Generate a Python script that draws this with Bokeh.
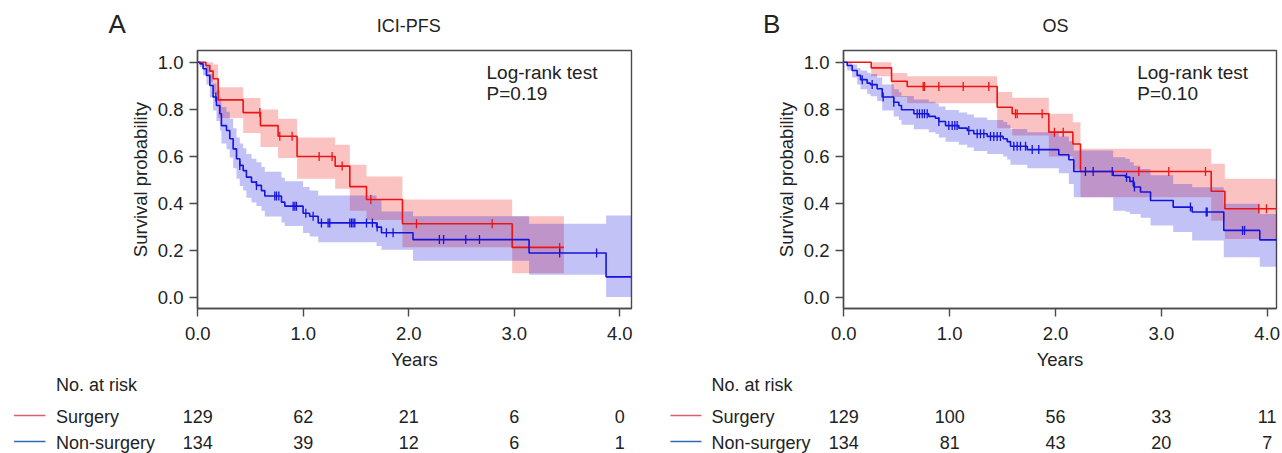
import numpy as np
from bokeh.plotting import figure
from bokeh.layouts import row
from bokeh.models import Range1d, FixedTicker, PrintfTickFormatter
from bokeh.core.properties import value
from bokeh.embed import file_html
from bokeh.resources import INLINE

FONT = "Liberation Sans"
TXT = "#222222"
AX = "#4a4a4a"
RED = "#ee1414"
BLUE = "#1414dc"
RED_LEG = "#d8606e"
BLUE_LEG = "#2e6db4"

# ---------------- data ----------------
YEAR_TICKS = [0, 1, 2, 3, 4]
PROB_TICKS = [0.0, 0.2, 0.4, 0.6, 0.8, 1.0]
GROUPS = ["Surgery", "Non-surgery"]

# Panel A : ICI-PFS
pfs_s_time = [0.0, 0.076, 0.114, 0.145, 0.193, 0.430, 0.594, 0.761, 0.941, 1.302, 1.441, 1.599, 1.940, 2.980, 3.470]
pfs_s_surv = [1.0, 0.986, 0.962, 0.930, 0.840, 0.786, 0.731, 0.686, 0.600, 0.559, 0.472, 0.417, 0.314, 0.214, 0.214]
pfs_s_hi = [1.0, 1.0, 1.0, 0.99, 0.894, 0.848, 0.799, 0.760, 0.680, 0.650, 0.565, 0.515, 0.417, 0.346, 0.346]
pfs_s_lo = [1.0, 0.955, 0.915, 0.865, 0.763, 0.699, 0.640, 0.593, 0.505, 0.463, 0.370, 0.330, 0.215, 0.104, 0.104]
pfs_s_cens = [0.588, 0.777, 0.894, 1.150, 1.273, 1.368, 1.640, 2.073, 2.790, 3.430]

pfs_n_time = [0.0, 0.020, 0.050, 0.082, 0.114, 0.145, 0.177, 0.209, 0.224, 0.272, 0.303, 0.335, 0.367, 0.398, 0.430, 0.461,
              0.509, 0.556, 0.603, 0.635, 0.793, 0.825, 0.998, 1.060, 1.141, 1.694, 1.741, 2.040, 3.140, 3.870, 4.110]
pfs_n_surv = [1.0, 0.993, 0.972, 0.944, 0.901, 0.852, 0.816, 0.781, 0.731, 0.710, 0.675, 0.632, 0.590, 0.562, 0.540, 0.512,
              0.491, 0.477, 0.455, 0.432, 0.406, 0.389, 0.359, 0.346, 0.318, 0.300, 0.276, 0.247, 0.190, 0.089, 0.089]
pfs_n_lo = [1.0, 0.980, 0.945, 0.905, 0.850, 0.795, 0.750, 0.710, 0.655, 0.630, 0.595, 0.550, 0.505, 0.475, 0.455, 0.425,
            0.405, 0.390, 0.370, 0.345, 0.320, 0.305, 0.275, 0.260, 0.236, 0.220, 0.204, 0.157, 0.098, 0.003, 0.003]
pfs_n_hi = [1.0, 1.0, 1.0, 0.985, 0.950, 0.910, 0.880, 0.850, 0.810, 0.790, 0.760, 0.720, 0.680, 0.655, 0.635, 0.610,
            0.590, 0.575, 0.555, 0.535, 0.510, 0.495, 0.470, 0.455, 0.434, 0.415, 0.366, 0.346, 0.314, 0.349, 0.349]
pfs_n_cens = [0.171, 0.398, 0.556, 0.730, 0.746, 0.768, 0.904, 0.920, 0.935, 1.024, 1.093, 1.172, 1.235, 1.251, 1.441,
              1.457, 1.472, 1.488, 1.599, 1.655, 1.700, 1.788, 1.851, 2.290, 2.330, 2.540, 2.670, 3.430, 3.780]

pfs_risk_surg = [129, 62, 21, 6, 0]
pfs_risk_non = [134, 39, 12, 6, 1]

# Panel B : OS
os_s_time = [0.0, 0.259, 0.451, 0.599, 1.449, 1.591, 1.937, 2.164, 2.236, 3.471, 3.600, 4.100]
os_s_surv = [1.0, 0.976, 0.919, 0.897, 0.809, 0.781, 0.703, 0.653, 0.536, 0.452, 0.378, 0.378]
os_s_hi = [1.0, 1.0, 0.954, 0.940, 0.873, 0.849, 0.781, 0.745, 0.633, 0.569, 0.505, 0.505]
os_s_lo = [1.0, 0.940, 0.852, 0.826, 0.720, 0.689, 0.600, 0.545, 0.427, 0.327, 0.250, 0.250]
os_s_cens = [0.750, 0.762, 0.898, 1.128, 1.370, 1.622, 1.638, 1.874, 1.990, 2.073, 2.787, 3.070, 3.417, 3.920, 3.993]

os_n_time = [0.0, 0.032, 0.079, 0.126, 0.158, 0.221, 0.252, 0.315, 0.363, 0.472, 0.520, 0.545, 0.662, 0.803, 0.866, 0.898,
             0.961, 1.087, 1.166, 1.228, 1.355, 1.506, 1.544, 1.575, 1.733, 2.031, 2.126, 2.173, 2.545, 2.661, 2.702, 2.740,
             2.803, 2.898, 3.112, 3.291, 3.590, 3.930, 4.100]
os_n_surv = [1.0, 0.986, 0.965, 0.944, 0.926, 0.911, 0.905, 0.887, 0.852, 0.830, 0.816, 0.798, 0.781, 0.770, 0.762, 0.748,
             0.731, 0.720, 0.710, 0.696, 0.685, 0.675, 0.663, 0.643, 0.629, 0.607, 0.586, 0.536, 0.519, 0.512, 0.494, 0.470,
             0.449, 0.413, 0.385, 0.364, 0.286, 0.246, 0.246]
os_n_lo = [1.0, 0.965, 0.935, 0.905, 0.885, 0.865, 0.855, 0.835, 0.795, 0.770, 0.755, 0.735, 0.715, 0.703, 0.695, 0.680,
           0.662, 0.650, 0.638, 0.623, 0.610, 0.600, 0.587, 0.565, 0.550, 0.529, 0.483, 0.427, 0.370, 0.365, 0.356, 0.356,
           0.340, 0.307, 0.279, 0.243, 0.172, 0.132, 0.132]
os_n_hi = [1.0, 1.0, 0.990, 0.975, 0.965, 0.955, 0.950, 0.935, 0.905, 0.885, 0.872, 0.857, 0.842, 0.832, 0.825, 0.812,
           0.797, 0.787, 0.778, 0.765, 0.755, 0.746, 0.735, 0.716, 0.703, 0.685, 0.665, 0.625, 0.597, 0.590, 0.575, 0.560,
           0.547, 0.520, 0.483, 0.469, 0.399, 0.356, 0.356]
os_n_cens = [0.174, 0.268, 0.372, 0.472, 0.693, 0.715, 0.741, 0.762, 0.788, 0.898, 0.992, 1.024, 1.049, 1.071, 1.181,
             1.260, 1.291, 1.323, 1.386, 1.417, 1.449, 1.480, 1.606, 1.638, 1.669, 1.717, 1.780, 1.842, 2.283, 2.356,
             2.536, 2.671, 2.734, 2.746, 3.275, 3.424, 3.433, 3.767, 3.786]

os_risk_surg = [129, 100, 56, 33, 11]
os_risk_non = [134, 81, 43, 20, 7]

# ---------------- layout constants (page pixels) ----------------
W = 641
H_HEAD, H_PLOT, H_TAB = 40, 335, 78          # stacked: 0-40, 40-375, 375-453
FRAME_TOP, FRAME_BOTTOM = 50, 308
Y0_PX, Y_SCALE = 297.3, 235.6               # pixel row of survival 0 and pixels per unit
MID = 0.35                                  # baseline -> text middle, in em


def step_value(times, surv, t):
    idx = np.searchsorted(np.asarray(times), np.asarray(t), side="right") - 1
    return list(np.asarray(surv)[idx])


def bare(height, xr, yr):
    f = figure(width=W, height=height, x_range=xr, y_range=yr, toolbar_location=None,
               output_backend="svg", min_border=0, x_axis_location=None, y_axis_location=None,
               title=None)
    f.outline_line_color = None
    f.grid.visible = False
    f.background_fill_color = "white"
    f.border_fill_color = "white"
    return f


def txt(f, x, base, s, size=18, align="left"):
    # base: pixel row of the text baseline inside the figure
    f.text(x=x, y=[b - MID * size for b in base], text=s, text_font=value(FONT),
           text_font_size=f"{size}px", text_color=TXT, text_baseline="middle", text_align=align)


def panel(letter, title, pval, surg, non, risk_s, risk_n, fig_left, x0, scale,
          frame_left, frame_right, letter_px, leg_px, lab_px, lr_x):
    fig_right = fig_left + W

    def t_of(px):
        return (px - x0) / scale

    def s_of(py):
        return (Y0_PX - py) / Y_SCALE

    # ---- header (page rows 0-40): y in page pixels
    h = bare(H_HEAD, Range1d(t_of(fig_left), t_of(fig_right)), Range1d(H_HEAD, 0))
    txt(h, [t_of(letter_px)], [33], [letter], size=26)
    txt(h, [2.0], [31.7], [title], align="center")

    # ---- survival plot (page rows 40-375)
    p = figure(width=W, height=H_PLOT,
               x_range=Range1d(t_of(frame_left), t_of(frame_right)),
               y_range=Range1d(s_of(FRAME_BOTTOM), s_of(FRAME_TOP)),
               toolbar_location=None, output_backend="svg",
               min_border_left=frame_left - fig_left, min_border_right=fig_right - frame_right,
               min_border_top=FRAME_TOP - H_HEAD,
               min_border_bottom=H_HEAD + H_PLOT - FRAME_BOTTOM, title=None)
    p.grid.visible = False
    p.outline_line_color = AX
    p.outline_line_width = 1.4
    p.outline_line_alpha = 1.0
    p.background_fill_color = "white"
    p.border_fill_color = "white"
    p.xaxis.ticker = FixedTicker(ticks=YEAR_TICKS)
    p.xaxis.formatter = PrintfTickFormatter(format="%.1f")
    p.yaxis.ticker = FixedTicker(ticks=PROB_TICKS)
    p.yaxis.formatter = PrintfTickFormatter(format="%.1f")
    p.xaxis.axis_label = "Years"
    p.yaxis.axis_label = "Survival probability"
    for ax in p.axis:
        ax.major_tick_out = 8
        ax.major_tick_in = 0
        ax.minor_tick_out = 0
        ax.minor_tick_in = 0
        ax.axis_line_color = AX
        ax.axis_line_width = 1.4
        ax.major_tick_line_color = AX
        ax.major_tick_line_width = 1.4
        ax.major_label_text_font = FONT
        ax.major_label_text_font_size = "18.5px"
        ax.major_label_text_color = TXT
        ax.axis_label_text_font = FONT
        ax.axis_label_text_font_size = "18.5px"
        ax.axis_label_text_font_style = "normal"
        ax.axis_label_text_color = TXT
    p.xaxis.major_label_standoff = 10
    p.xaxis.axis_label_standoff = 6
    p.yaxis.major_label_standoff = 6
    p.yaxis.axis_label_standoff = 4

    for (t, s, lo, hi, cens), col in ((surg, RED), (non, BLUE)):
        p.varea_step(x=t, y1=lo, y2=hi, step_mode="after", fill_color=col, fill_alpha=0.26)
    for (t, s, lo, hi, cens), col in ((surg, RED), (non, BLUE)):
        p.step(x=t, y=s, mode="after", line_color=col, line_width=1.6)
        p.scatter(x=cens, y=step_value(t, s, cens), marker="dash", angle=np.pi / 2, size=9,
                  line_color=col, line_width=1.3)

    lr_size = 19
    p.text(x=[lr_x, lr_x], y=[s_of(78.3 - MID * lr_size), s_of(100.0 - MID * lr_size)],
           text=["Log-rank test", pval], text_font=value(FONT), text_font_size=f"{lr_size}px",
           text_color=TXT, text_baseline="middle", text_align="left")

    # ---- number-at-risk table (page rows 375-453): y in pixels from its top
    top = H_HEAD + H_PLOT
    tb = bare(H_TAB, Range1d(t_of(fig_left), t_of(fig_right)), Range1d(H_TAB, 0))
    txt(tb, [t_of(lab_px)], [391 - top], ["No. at risk"])
    for name, col, base, nums in ((GROUPS[0], RED_LEG, 422.5 - top, risk_s),
                                  (GROUPS[1], BLUE_LEG, 448.5 - top, risk_n)):
        tb.line(x=[t_of(leg_px[0]), t_of(leg_px[1])], y=[base - 7.5, base - 7.5],
                line_color=col, line_width=1.6)
        txt(tb, [t_of(lab_px)], [base], [name])
        txt(tb, YEAR_TICKS, [base] * len(YEAR_TICKS), [str(n) for n in nums], align="center")
    return h, p, tb


ha, pa, ta = panel("A", "ICI-PFS", "P=0.19",
                   (pfs_s_time, pfs_s_surv, pfs_s_lo, pfs_s_hi, pfs_s_cens),
                   (pfs_n_time, pfs_n_surv, pfs_n_lo, pfs_n_hi, pfs_n_cens),
                   pfs_risk_surg, pfs_risk_non,
                   fig_left=0, x0=197.3, scale=105.5, frame_left=197, frame_right=631,
                   letter_px=108, leg_px=(13.5, 45), lab_px=55.5, lr_x=2.737)

hb, pb, tbb = panel("B", "OS", "P=0.10",
                    (os_s_time, os_s_surv, os_s_lo, os_s_hi, os_s_cens),
                    (os_n_time, os_n_surv, os_n_lo, os_n_hi, os_n_cens),
                    os_risk_surg, os_risk_non,
                    fig_left=641, x0=843.3, scale=105.85, frame_left=843, frame_right=1276,
                    letter_px=762.5, leg_px=(670, 701), lab_px=711, lr_x=2.772)

# three independent rows stacked in the page (independent roots: no frame alignment)
roots = [row(ha, hb), row(pa, pb), row(ta, tbb)]
open("out.html", "w").write(file_html(roots, INLINE))
